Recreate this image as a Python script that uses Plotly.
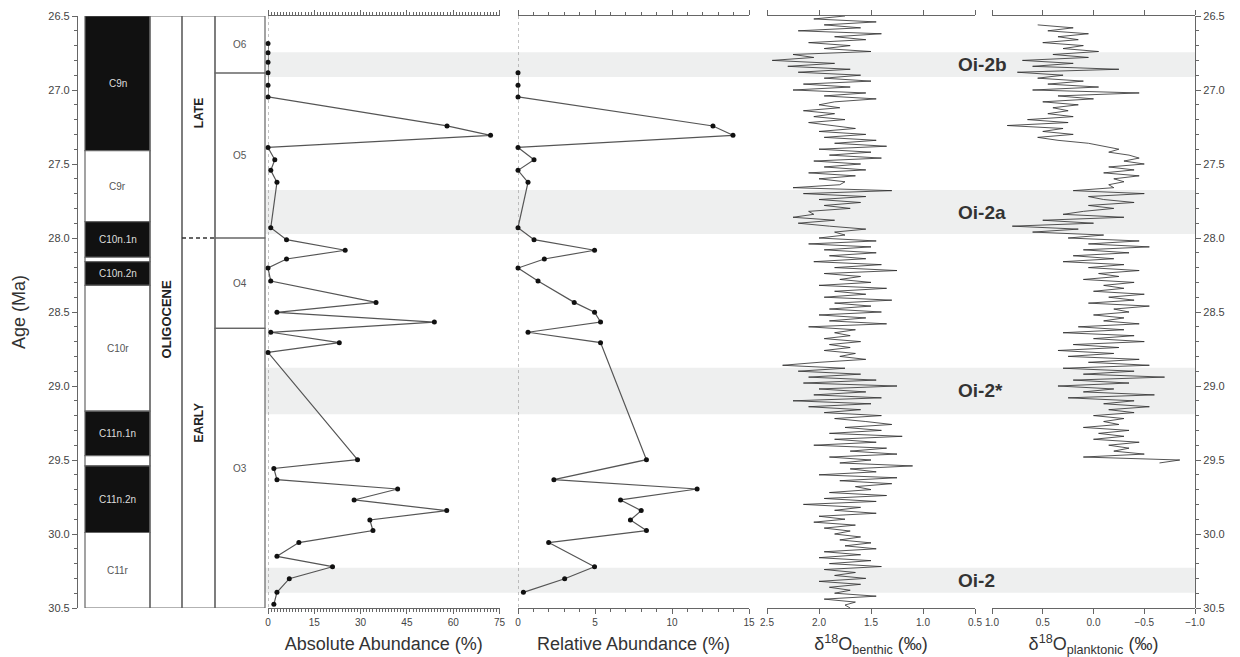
import plotly.graph_objects as go

# ---------------- data ----------------
# Absolute abundance (%)
abs_age = [26.685, 26.748, 26.813, 26.883, 26.968, 27.047, 27.243, 27.306, 27.388, 27.471,
           27.543, 27.624, 27.930, 28.011, 28.083, 28.142, 28.203, 28.291, 28.435, 28.502,
           28.568, 28.637, 28.707, 28.773, 29.498, 29.557, 29.633, 29.696, 29.770, 29.842,
           29.905, 29.977, 30.058, 30.151, 30.221, 30.302, 30.394, 30.475]
abs_val = [0, 0, 0, 0, 0, 0, 58.0, 72.1, 0, 2.2,
           0.9, 2.9, 0.9, 6.0, 25.0, 6.0, 0, 0.9, 35.0, 2.9,
           53.9, 0.9, 23.1, 0, 29.0, 1.9, 2.9, 42.0, 27.9, 57.9,
           33.0, 34.0, 10.0, 2.9, 20.9, 6.9, 2.9, 1.9]

# Relative abundance (%)
rel_age = [26.883, 26.968, 27.047, 27.243, 27.306, 27.388, 27.471, 27.543, 27.624, 27.930,
           28.011, 28.083, 28.142, 28.203, 28.291, 28.435, 28.502, 28.568, 28.637, 28.707,
           29.498, 29.633, 29.696, 29.770, 29.842, 29.905, 29.977, 30.058, 30.221, 30.302,
           30.394]
rel_val = [0, 0, 0, 12.66, 13.96, 0, 1.04, 0, 0.65, 0,
           1.04, 4.97, 1.71, 0, 1.30, 3.65, 4.97, 5.36, 0.65, 5.36,
           8.34, 2.33, 11.63, 6.66, 8.0, 7.30, 8.34, 1.99, 4.97, 3.03,
           0.35]

# Benthic d18O (permil)
ben_age = [26.50, 26.52, 26.54, 26.56, 26.58, 26.60, 26.62, 26.64, 26.66, 26.68,
           26.70, 26.72, 26.74, 26.76, 26.78, 26.80, 26.82, 26.84, 26.86, 26.88,
           26.90, 26.92, 26.94, 26.96, 26.98, 27.00, 27.02, 27.04, 27.06, 27.08,
           27.10, 27.12, 27.14, 27.16, 27.18, 27.20, 27.22, 27.24, 27.26, 27.28,
           27.30, 27.32, 27.34, 27.36, 27.38, 27.40, 27.42, 27.44, 27.46, 27.48,
           27.50, 27.52, 27.54, 27.56, 27.58, 27.60, 27.62, 27.64, 27.66, 27.68,
           27.70, 27.72, 27.74, 27.76, 27.78, 27.80, 27.82, 27.84, 27.86, 27.88,
           27.90, 27.92, 27.94, 27.96, 27.98, 28.00, 28.02, 28.04, 28.06, 28.08,
           28.10, 28.12, 28.14, 28.16, 28.18, 28.20, 28.22, 28.24, 28.26, 28.28,
           28.30, 28.32, 28.34, 28.36, 28.38, 28.40, 28.42, 28.44, 28.46, 28.48,
           28.50, 28.52, 28.54, 28.56, 28.58, 28.60, 28.62, 28.64, 28.66, 28.68,
           28.70, 28.72, 28.74, 28.76, 28.78, 28.80, 28.82, 28.84, 28.86, 28.88,
           28.90, 28.92, 28.94, 28.96, 28.98, 29.00, 29.02, 29.04, 29.06, 29.08,
           29.10, 29.12, 29.14, 29.16, 29.18, 29.20, 29.22, 29.24, 29.26, 29.28,
           29.30, 29.32, 29.34, 29.36, 29.38, 29.40, 29.42, 29.44, 29.46, 29.48,
           29.50, 29.52, 29.54, 29.56, 29.58, 29.60, 29.62, 29.64, 29.66, 29.68,
           29.70, 29.72, 29.74, 29.76, 29.78, 29.80, 29.82, 29.84, 29.86, 29.88,
           29.90, 29.92, 29.94, 29.96, 29.98, 30.00, 30.02, 30.04, 30.06, 30.08,
           30.10, 30.12, 30.14, 30.16, 30.18, 30.20, 30.22, 30.24, 30.26, 30.28,
           30.30, 30.32, 30.34, 30.36, 30.38, 30.40, 30.42, 30.44, 30.46, 30.48,
           30.50]
ben_val = [1.75, 2.05, 1.45, 1.95, 1.60, 2.20, 1.40, 1.85, 1.55, 2.10,
           1.70, 1.95, 1.50, 2.25, 2.05, 2.45, 1.85, 2.30, 1.70, 2.20,
           1.60, 1.95, 1.50, 2.15, 1.70, 2.25, 1.55, 1.95, 1.45, 1.85,
           2.00, 1.80, 2.15, 1.85, 2.05, 1.75, 2.10, 1.90, 1.65, 2.00,
           1.55, 1.95, 1.45, 1.85, 1.35, 2.00, 1.50, 1.90, 1.40, 2.05,
           1.60, 1.95, 1.55, 2.10, 1.65, 2.00, 1.75, 1.80, 2.25, 1.30,
           2.15, 1.55, 2.00, 1.60, 1.95, 1.70, 2.10, 2.05, 2.25, 1.85,
           2.20, 1.90, 1.55, 1.85, 1.75, 2.00, 1.45, 2.10, 1.50, 1.95,
           1.45, 1.90, 1.55, 2.05, 1.40, 1.85, 1.25, 1.95, 1.60, 1.80,
           1.50, 2.00, 1.35, 1.85, 1.55, 1.95, 1.30, 1.85, 1.50, 1.90,
           1.40, 2.00, 1.55, 1.90, 1.35, 2.10, 1.65, 1.85, 1.70, 1.95,
           1.60, 1.90, 1.70, 1.95, 1.65, 1.80, 1.55, 2.00, 2.35, 1.75,
           2.20, 1.60, 2.10, 1.45, 2.15, 1.25, 2.00, 1.55, 2.05, 1.40,
           2.25, 1.50, 2.10, 1.60, 1.95, 1.40, 1.85, 1.55, 1.30, 1.75,
           1.40, 1.90, 1.20, 1.85, 1.45, 2.05, 1.35, 1.70, 1.25, 1.90,
           1.50, 1.80, 1.10, 1.70, 1.45, 2.00, 1.25, 1.80, 1.30, 1.65,
           1.50, 1.90, 1.35, 1.95, 1.45, 2.15, 1.60, 1.85, 1.45, 2.00,
           1.75, 2.05, 1.65, 1.95, 1.70, 1.85, 1.60, 1.80, 1.50, 1.75,
           1.45, 1.95, 1.60, 2.00, 1.50, 1.90, 1.40, 1.95, 1.65, 1.85,
           1.55, 2.00, 1.60, 1.90, 1.70, 1.85, 1.45, 1.95, 1.65, 1.75,
           1.70]

# Planktonic d18O (permil)
pl_age = [26.56, 26.58, 26.60, 26.62, 26.64, 26.66, 26.68, 26.70, 26.72, 26.74,
          26.76, 26.78, 26.80, 26.82, 26.84, 26.86, 26.88, 26.90, 26.92, 26.94,
          26.96, 26.98, 27.00, 27.02, 27.04, 27.06, 27.08, 27.10, 27.12, 27.14,
          27.16, 27.18, 27.20, 27.22, 27.24, 27.26, 27.28, 27.30, 27.32, 27.34,
          27.36, 27.38, 27.40, 27.42, 27.44, 27.46, 27.48, 27.50, 27.52, 27.54,
          27.56, 27.58, 27.60, 27.62, 27.64, 27.66, 27.68, 27.70, 27.72, 27.74,
          27.76, 27.78, 27.80, 27.82, 27.84, 27.86, 27.88, 27.90, 27.92, 27.94,
          27.96, 27.98, 28.00, 28.02, 28.04, 28.06, 28.08, 28.10, 28.12, 28.14,
          28.16, 28.18, 28.20, 28.22, 28.24, 28.26, 28.28, 28.30, 28.32, 28.34,
          28.36, 28.38, 28.40, 28.42, 28.44, 28.46, 28.48, 28.50, 28.52, 28.54,
          28.56, 28.58, 28.60, 28.62, 28.64, 28.66, 28.68, 28.70, 28.72, 28.74,
          28.76, 28.78, 28.80, 28.82, 28.84, 28.86, 28.88, 28.90, 28.92, 28.94,
          28.96, 28.98, 29.00, 29.02, 29.04, 29.06, 29.08, 29.10, 29.12, 29.14,
          29.16, 29.18, 29.20, 29.22, 29.24, 29.26, 29.28, 29.30, 29.32, 29.34,
          29.36, 29.38, 29.40, 29.42, 29.44, 29.46, 29.48, 29.50, 29.52]
pl_val = [0.55, 0.20, 0.45, 0.05, 0.35, 0.15, 0.50, 0.10, 0.30, -0.05,
          0.40, 0.05, 0.70, 0.20, 0.60, -0.25, 0.75, 0.30, 0.55, 0.10,
          0.45, -0.05, 0.60, -0.45, 0.35, 0.00, 0.50, 0.15, 0.40, 0.25,
          0.45, 0.20, 0.65, 0.25, 0.85, 0.30, 0.50, 0.20, 0.55, 0.35,
          0.05, -0.10, -0.25, -0.15, -0.35, -0.45, -0.30, -0.50, -0.15, -0.40,
          -0.10, -0.45, -0.20, -0.30, -0.15, -0.20, 0.20, -0.50, 0.05, -0.10,
          -0.40, 0.05, -0.20, 0.10, 0.30, -0.30, 0.50, 0.00, 0.80, 0.15,
          0.60, -0.10, 0.25, -0.45, 0.05, -0.55, 0.10, -0.35, 0.20, -0.20,
          0.30, -0.30, 0.05, -0.45, -0.05, -0.25, 0.10, -0.40, -0.10, -0.30,
          0.00, -0.50, -0.15, -0.40, 0.05, -0.55, -0.20, -0.35, 0.00, -0.30,
          -0.10, -0.45, 0.15, -0.30, 0.30, -0.40, 0.00, -0.50, 0.20, -0.25,
          0.35, -0.20, 0.25, -0.45, 0.05, -0.55, 0.30, -0.40, 0.10, -0.70,
          0.20, -0.35, 0.35, -0.20, 0.10, -0.60, 0.25, -0.40, -0.10, -0.55,
          -0.15, -0.40, 0.00, -0.30, -0.10, -0.25, 0.10, -0.35, -0.05, -0.30,
          0.00, -0.45, -0.15, -0.35, -0.20, -0.50, 0.10, -0.85, -0.65]

# Magnetochrons
chron_names = ["C9n", "C9r", "C10n.1n", "", "C10n.2n", "C10r", "C11n.1n", "", "C11n.2n", "C11r"]
chron_top = [26.50, 27.41, 27.89, 28.13, 28.16, 28.32, 29.17, 29.47, 29.54, 29.99]
chron_base = [27.41, 27.89, 28.13, 28.16, 28.32, 29.17, 29.47, 29.54, 29.99, 30.50]
chron_normal = [True, False, True, False, True, False, True, False, True, False]

# Epoch / sub-epoch
epoch_name = "OLIGOCENE"
epoch_range = [26.5, 30.5]
sub_names = ["LATE", "EARLY"]
sub_top = [26.5, 28.0]
sub_base = [28.0, 30.5]

# Planktonic foraminiferal zones
zone_names = ["O6", "O5", "O4", "O3"]
zone_top = [26.5, 26.885, 28.0, 28.61]
zone_base = [26.885, 28.0, 28.61, 30.5]

# Oi glacial events (grey bands)
oi_names = ["Oi-2b", "Oi-2a", "Oi-2*", "Oi-2"]
oi_top = [26.745, 27.676, 28.876, 30.228]
oi_base = [26.912, 27.973, 29.191, 30.397]

# ---------------- layout helpers ----------------
W, H = 1240, 657
ML, MR, MT, MB = 77, 45, 16, 49
PW = W - ML - MR


def px(x):
    return (x - ML) / PW


FONT = "Arial, Liberation Sans, sans-serif"
AX = "#666666"
TXT = "#444444"

fig = go.Figure()

fig.add_trace(go.Scatter(x=abs_val, y=abs_age, xaxis="x", yaxis="y", mode="lines+markers",
                         line=dict(color="#555555", width=1.2),
                         marker=dict(size=5, color="#111111"), cliponaxis=False,
                         showlegend=False, hoverinfo="skip"))
fig.add_trace(go.Scatter(x=rel_val, y=rel_age, xaxis="x2", yaxis="y", mode="lines+markers",
                         line=dict(color="#555555", width=1.2),
                         marker=dict(size=5, color="#111111"), cliponaxis=False,
                         showlegend=False, hoverinfo="skip"))
fig.add_trace(go.Scatter(x=ben_val, y=ben_age, xaxis="x3", yaxis="y", mode="lines",
                         line=dict(color="#2a2a2a", width=0.8),
                         showlegend=False, hoverinfo="skip"))
fig.add_trace(go.Scatter(x=pl_val, y=pl_age, xaxis="x4", yaxis="y2", mode="lines",
                         line=dict(color="#2a2a2a", width=0.8),
                         showlegend=False, hoverinfo="skip"))

common_x = dict(showgrid=False, zeroline=False, showline=True, linecolor=AX, linewidth=1.2,
                ticks="outside", tickcolor=AX, ticklen=5, mirror="allticks", automargin=False,
                tickfont=dict(family=FONT, size=10, color=TXT),
                title_font=dict(family=FONT, size=18, color="#333333"), title_standoff=10)

common_y = dict(range=[30.5, 26.5], showgrid=False, zeroline=False, showline=True,
                linecolor=AX, linewidth=1.2, ticks="outside", tickcolor=AX, ticklen=5,
                dtick=0.5, tick0=26.5, tickformat=".1f", anchor="free", automargin=False,
                minor=dict(dtick=0.1, ticks="outside", ticklen=3, tickcolor=AX),
                tickfont=dict(family=FONT, size=11, color=TXT))

# inside-pointing companion axes so the abundance scales get crossing ticks
inner_x = dict(showgrid=False, zeroline=False, showline=False, showticklabels=False,
               ticks="inside", tickcolor=AX, ticklen=4, mirror="allticks", anchor="y",
               automargin=False)

fig.update_layout(
    width=W, height=H, autosize=False,
    margin=dict(l=ML, r=MR, t=MT, b=MB),
    paper_bgcolor="white", plot_bgcolor="white",
    font=dict(family=FONT, color=TXT),
    yaxis=dict(position=0, side="left",
               title=dict(text="Age (Ma)", font=dict(family=FONT, size=18, color="#333333"),
                          standoff=16), **common_y),
    yaxis2=dict(position=1, side="right", overlaying="y", matches="y", **common_y),
    xaxis=dict(domain=[px(268), px(499.5)], range=[0, 75], anchor="y", dtick=15, tick0=0,
               minor=dict(dtick=1, ticks="outside", ticklen=3, tickcolor=AX),
               title=dict(text="Absolute Abundance (%)"), **common_x),
    xaxis2=dict(domain=[px(518), px(749)], range=[0, 15], anchor="y", dtick=5, tick0=0,
                minor=dict(dtick=1, ticks="outside", ticklen=3, tickcolor=AX),
                title=dict(text="Relative Abundance (%)"), **common_x),
    xaxis3=dict(domain=[px(767), px(975)], range=[2.5, 0.5], anchor="y", dtick=0.5,
                tickformat=".1f",
                title=dict(text="δ<sup>18</sup>O<sub>benthic</sub> (‰)"), **common_x),
    xaxis4=dict(domain=[px(992), 1.0], range=[1.0, -1.0], anchor="y2", dtick=0.5,
                tickformat=".1f",
                title=dict(text="δ<sup>18</sup>O<sub>planktonic</sub> (‰)"), **common_x),
    xaxis5=dict(domain=[px(268), px(499.5)], range=[0, 75], overlaying="x", dtick=1, tick0=0,
                **inner_x),
    xaxis6=dict(domain=[px(518), px(749)], range=[0, 15], overlaying="x2", dtick=1, tick0=0,
                **inner_x),
)

shapes = []
annotations = []

# grey bands
for name, t, b in zip(oi_names, oi_top, oi_base):
    shapes.append(dict(type="rect", xref="paper", yref="y", x0=px(265), x1=1.0, y0=t, y1=b,
                       fillcolor="#eeefef", line=dict(width=0), layer="below"))
    annotations.append(dict(x=px(956), y=(t + b) / 2, xref="paper", yref="y", text=f"<b>{name}</b>",
                            showarrow=False, xanchor="left", yanchor="middle",
                            font=dict(family=FONT, size=19, color="#333333")))

# zero dotted lines
for xr in ["x", "x2"]:
    shapes.append(dict(type="line", xref=xr, yref="y", x0=0, x1=0, y0=26.5, y1=30.5,
                       line=dict(color="#888888", width=1, dash="dot"), layer="below"))

# magnetochron column
cx0, cx1 = px(85), px(150)
for name, t, b, n in zip(chron_names, chron_top, chron_base, chron_normal):
    shapes.append(dict(type="rect", xref="paper", yref="y", x0=cx0, x1=cx1, y0=t, y1=b,
                       fillcolor="#111111" if n else "white",
                       line=dict(color=AX, width=1.2)))
    if name:
        annotations.append(dict(x=(cx0 + cx1) / 2, y=(t + b) / 2, xref="paper", yref="y",
                                text=name, showarrow=False, xanchor="center", yanchor="middle",
                                font=dict(family=FONT, size=10,
                                          color="#dddddd" if n else "#555555")))

# epoch column
ex0, ex1 = px(150), px(182)
shapes.append(dict(type="rect", xref="paper", yref="y", x0=ex0, x1=ex1,
                   y0=epoch_range[0], y1=epoch_range[1], line=dict(color=AX, width=1.2)))
annotations.append(dict(x=(ex0 + ex1) / 2, y=28.55, xref="paper", yref="y",
                        text=f"<b>{epoch_name}</b>", textangle=-90, showarrow=False,
                        xanchor="center", yanchor="middle",
                        font=dict(family=FONT, size=13, color="#222222")))

# sub-epoch column
sx0, sx1 = px(182), px(215)
shapes.append(dict(type="rect", xref="paper", yref="y", x0=sx0, x1=sx1,
                   y0=sub_top[0], y1=sub_base[-1], line=dict(color=AX, width=1.2)))
shapes.append(dict(type="line", xref="paper", yref="y", x0=sx0, x1=sx1,
                   y0=sub_base[0], y1=sub_base[0],
                   line=dict(color="#333333", width=1.5, dash="4px,3px")))
for name, t, b, yl in zip(sub_names, sub_top, sub_base, [27.16, 29.25]):
    annotations.append(dict(x=(sx0 + sx1) / 2, y=yl, xref="paper", yref="y",
                            text=f"<b>{name}</b>", textangle=-90, showarrow=False,
                            xanchor="center", yanchor="middle",
                            font=dict(family=FONT, size=12, color="#222222")))

# zone column
zx0, zx1 = px(215), px(265)
for name, t, b in zip(zone_names, zone_top, zone_base):
    shapes.append(dict(type="rect", xref="paper", yref="y", x0=zx0, x1=zx1, y0=t, y1=b,
                       line=dict(color=AX, width=1.2)))
    annotations.append(dict(x=(zx0 + zx1) / 2, y=(t + b) / 2, xref="paper", yref="y",
                            text=name, showarrow=False, xanchor="center", yanchor="middle",
                            font=dict(family=FONT, size=10, color="#555555")))

fig.update_layout(shapes=shapes, annotations=annotations)

fig.write_html("out.html")
